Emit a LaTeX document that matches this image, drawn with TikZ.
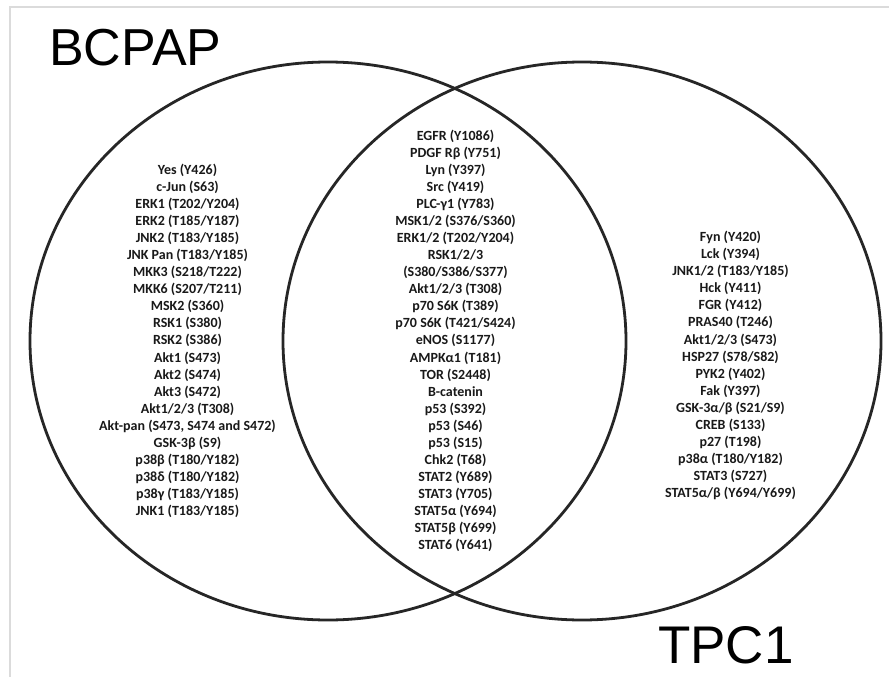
\documentclass[tikz,border=0pt]{standalone}
\usepackage{fontspec}
\setmainfont{Carlito}
\newfontfamily\labelfont{Liberation Sans}
\begin{document}
\begin{tikzpicture}[x=1pt,y=-1pt,
  setcircle/.style={draw=black!85,line width=2.8pt},
  frameline/.style={draw=black!14,line width=2pt},
  setlabel/.style={font=\labelfont\fontsize{52}{60}\selectfont,inner sep=0pt,anchor=base west},
  itemlist/.style={font=\bfseries\fontsize{14}{17.07}\selectfont,align=center,inner sep=0pt,anchor=north,text=black!90}]
\useasboundingbox (0,0) rectangle (889,677);
\fill[white] (0,0) rectangle (889,677);
\draw[frameline] (10,677) -- (10,7.5) -- (889,7.5);
\draw[setcircle] (328,341) ellipse [x radius=298, y radius=279];
\draw[setcircle] (582,341) ellipse [x radius=299, y radius=279];
\node[setlabel] (bcpap) at (49,66) {BCPAP};
\node[setlabel,font=\labelfont\fontsize{53}{60}\selectfont] (tpc) at (658,663) {TPC1};
\node[itemlist] (left) at (187.5,163.7) {Yes (Y426)\\c-Jun (S63)\\ERK1 (T202/Y204)\\ERK2 (T185/Y187)\\JNK2 (T183/Y185)\\JNK Pan (T183/Y185)\\MKK3 (S218/T222)\\MKK6 (S207/T211)\\MSK2 (S360)\\RSK1 (S380)\\RSK2 (S386)\\Akt1 (S473)\\Akt2 (S474)\\Akt3 (S472)\\Akt1/2/3 (T308)\\Akt-pan (S473, S474 and S472)\\GSK-3β (S9)\\p38β (T180/Y182)\\p38δ (T180/Y182)\\p38γ (T183/Y185)\\JNK1 (T183/Y185)};
\node[itemlist] (both) at (455.5,129.5) {EGFR (Y1086)\\PDGF Rβ (Y751)\\Lyn (Y397)\\Src (Y419)\\PLC-γ1 (Y783)\\MSK1/2 (S376/S360)\\ERK1/2 (T202/Y204)\\RSK1/2/3\\(S380/S386/S377)\\Akt1/2/3 (T308)\\p70 S6K (T389)\\p70 S6K (T421/S424)\\eNOS (S1177)\\AMPKα1 (T181)\\TOR (S2448)\\B-catenin\\p53 (S392)\\p53 (S46)\\p53 (S15)\\Chk2 (T68)\\STAT2 (Y689)\\STAT3 (Y705)\\STAT5α (Y694)\\STAT5β (Y699)\\STAT6 (Y641)};
\node[itemlist] (right) at (730.5,231) {Fyn (Y420)\\Lck (Y394)\\JNK1/2 (T183/Y185)\\Hck (Y411)\\FGR (Y412)\\PRAS40 (T246)\\Akt1/2/3 (S473)\\HSP27 (S78/S82)\\PYK2 (Y402)\\Fak (Y397)\\GSK-3α/β (S21/S9)\\CREB (S133)\\p27 (T198)\\p38α (T180/Y182)\\STAT3 (S727)\\STAT5α/β (Y694/Y699)};
\end{tikzpicture}
\end{document}
